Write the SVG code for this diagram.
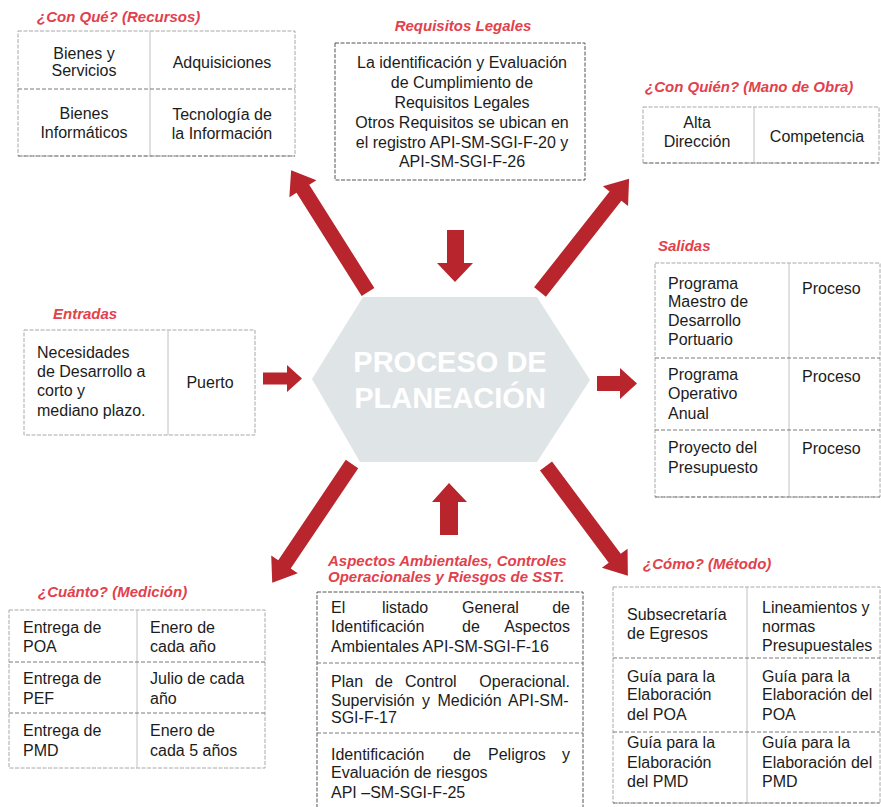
<svg xmlns="http://www.w3.org/2000/svg" width="881" height="807" viewBox="0 0 881 807">
<style>
.bg{fill:#ffffff}
.lbl{font-family:"Liberation Sans",Arial,sans-serif;font-size:15px;font-weight:bold;font-style:italic;fill:#e2414c}
.t{font-family:"Liberation Sans",Arial,sans-serif;font-size:16px;fill:#1c1c1c}
.c{text-anchor:middle}
.e{text-anchor:end}
.box{fill:#ffffff;stroke:#a8a8a8;stroke-width:1;stroke-dasharray:4 1.5}
.vl{stroke:#c0c0c0;stroke-width:1}
.hl{stroke:#7a7a7a;stroke-width:1;stroke-dasharray:4 2}
.box2{fill:#ffffff;stroke:#555;stroke-width:1;stroke-dasharray:4 1.5}
.arr{fill:#b8252d}
.hex{fill:#dfe4e7}
.ht{font-family:"Liberation Sans",Arial,sans-serif;font-size:29px;font-weight:bold;fill:#ffffff;text-anchor:middle}
</style>
<rect class="bg" x="0" y="0" width="881" height="807"/>

<g id="connectors">
  <path class="arr" transform="translate(368,292) rotate(-122.26)" d="M0,-7.5 H122 V-16 L144,0 L122,16 V7.5 H0 Z"/>
  <path class="arr" transform="translate(540,292) rotate(-51.78)" d="M0,-7.5 H122 V-16 L144,0 L122,16 V7.5 H0 Z"/>
  <path class="arr" transform="translate(352,464) rotate(123.91)" d="M0,-7.5 H121 V-16 L143,0 L121,16 V7.5 H0 Z"/>
  <path class="arr" transform="translate(546,466) rotate(53.3)" d="M0,-7.5 H115 V-16 L137,0 L115,16 V7.5 H0 Z"/>
  <path class="arr" d="M447,230 H464 V263 H473 L455,282 L437,263 H447 Z"/>
  <path class="arr" d="M440,535 V502 H432 L449,483 L467,502 H458 V535 Z"/>
  <path class="arr" d="M263,372.5 H287 V365 L302,378.5 L287,392 V384.5 H263 Z"/>
  <path class="arr" d="M597,376 H620 V368 L637,383.5 L620,399 V391 H597 Z"/>
</g>

<g id="proceso">
  <polygon class="hex" points="312,379 363,297 537,297 590,380 537,462 360,462"/>
  <text class="ht" x="450" y="372">PROCESO DE</text>
  <text class="ht" x="450" y="408">PLANEACIÓN</text>
</g>

<g id="recursos">
  <text class="lbl" x="37" y="22">¿Con Qué? (Recursos)</text>
  <rect class="box" x="18" y="31" width="277" height="125"/>
  <line class="vl" x1="150" y1="31" x2="150" y2="156"/>
  <line class="hl" x1="18" y1="89" x2="295" y2="89"/>
  <line class="hl" x1="18" y1="156" x2="295" y2="156"/>
  <text class="t c" x="84" y="59">Bienes y</text>
  <text class="t c" x="84" y="76">Servicios</text>
  <text class="t c" x="222" y="68">Adquisiciones</text>
  <text class="t c" x="84" y="119">Bienes</text>
  <text class="t c" x="84" y="138">Informáticos</text>
  <text class="t c" x="222" y="120">Tecnología  de</text>
  <text class="t c" x="222" y="139">la Información</text>
</g>

<g id="requisitos">
  <text class="lbl c" x="463" y="31">Requisitos Legales</text>
  <rect class="box2" x="335" y="43" width="250" height="137"/>
  <text class="t c" x="462" y="68">La identificación  y Evaluación</text>
  <text class="t c" x="462" y="88">de Cumplimiento  de</text>
  <text class="t c" x="462" y="108">Requisitos Legales</text>
  <text class="t c" x="462" y="128">Otros Requisitos  se ubican en</text>
  <text class="t c" x="462" y="148">el registro API-SM-SGI-F-20  y</text>
  <text class="t c" x="462" y="167">API-SM-SGI-F-26</text>
</g>

<g id="manodeobra">
  <text class="lbl" x="645" y="92">¿Con Quién?  (Mano de Obra)</text>
  <rect class="box" x="643" y="107" width="236" height="56"/>
  <line class="vl" x1="754" y1="107" x2="754" y2="163"/>
  <line class="hl" x1="643" y1="163" x2="879" y2="163"/>
  <text class="t c" x="697" y="128">Alta</text>
  <text class="t c" x="697" y="147">Dirección</text>
  <text class="t c" x="817" y="142">Competencia</text>
</g>

<g id="entradas">
  <text class="lbl" x="53" y="319">Entradas</text>
  <rect class="box" x="24" y="330" width="231" height="105"/>
  <line class="vl" x1="168" y1="330" x2="168" y2="435"/>
  <text class="t" x="37" y="358">Necesidades</text>
  <text class="t" x="37" y="377">de Desarrollo  a</text>
  <text class="t" x="37" y="396">corto y</text>
  <text class="t" x="37" y="416">mediano  plazo.</text>
  <text class="t c" x="210" y="388">Puerto</text>
</g>

<g id="salidas">
  <text class="lbl" x="658" y="251">Salidas</text>
  <rect class="box" x="655" y="263" width="225" height="234"/>
  <line class="vl" x1="789" y1="263" x2="789" y2="497"/>
  <line class="hl" x1="655" y1="358" x2="880" y2="358"/>
  <line class="hl" x1="655" y1="430" x2="880" y2="430"/>
  <line class="hl" x1="655" y1="497" x2="880" y2="497"/>
  <text class="t" x="668" y="289">Programa</text>
  <text class="t" x="668" y="307">Maestro de</text>
  <text class="t" x="668" y="326">Desarrollo</text>
  <text class="t" x="668" y="345">Portuario</text>
  <text class="t" x="802" y="294">Proceso</text>
  <text class="t" x="668" y="380">Programa</text>
  <text class="t" x="668" y="399">Operativo</text>
  <text class="t" x="668" y="419">Anual</text>
  <text class="t" x="802" y="382">Proceso</text>
  <text class="t" x="668" y="453">Proyecto del</text>
  <text class="t" x="668" y="473">Presupuesto</text>
  <text class="t" x="802" y="454">Proceso</text>
</g>

<g id="medicion">
  <text class="lbl" x="38" y="597">¿Cuánto? (Medición)</text>
  <rect class="box" x="9" y="610" width="256" height="158"/>
  <line class="vl" x1="137" y1="610" x2="137" y2="768"/>
  <line class="hl" x1="9" y1="662" x2="265" y2="662"/>
  <line class="hl" x1="9" y1="713" x2="265" y2="713"/>
  <text class="t" x="23" y="633">Entrega de</text>
  <text class="t" x="23" y="652">POA</text>
  <text class="t" x="150" y="633">Enero de</text>
  <text class="t" x="150" y="652">cada año</text>
  <text class="t" x="23" y="684">Entrega de</text>
  <text class="t" x="23" y="704">PEF</text>
  <text class="t" x="150" y="684">Julio de cada</text>
  <text class="t" x="150" y="704">año</text>
  <text class="t" x="23" y="736">Entrega de</text>
  <text class="t" x="23" y="756">PMD</text>
  <text class="t" x="150" y="736">Enero de</text>
  <text class="t" x="150" y="756">cada 5 años</text>
</g>

<g id="aspectos">
  <text class="lbl" x="328" y="566">Aspectos Ambientales, Controles</text>
  <text class="lbl" x="328" y="582">Operacionales y Riesgos de SST.</text>
  <rect class="box2" x="317" y="592" width="266" height="216"/>
  <line class="hl" x1="317" y1="663" x2="583" y2="663"/>
  <line class="hl" x1="317" y1="733" x2="583" y2="733"/>
  <text class="t" x="331" y="613">El</text>
  <text class="t" x="382" y="613">listado</text>
  <text class="t" x="462" y="613">General</text>
  <text class="t e" x="570" y="613">de</text>
  <text class="t" x="331" y="632">Identificación</text>
  <text class="t" x="462" y="632">de</text>
  <text class="t e" x="570" y="632">Aspectos</text>
  <text class="t" x="331" y="652">Ambientales API-SM-SGI-F-16</text>
  <text class="t" x="331" y="687">Plan</text>
  <text class="t" x="375" y="687">de</text>
  <text class="t" x="405" y="687">Control</text>
  <text class="t e" x="570" y="687">Operacional.</text>
  <text class="t" x="331" y="706" style="word-spacing:3px">Supervisión y Medición API-SM-</text>
  <text class="t" x="331" y="723">SGI-F-17</text>
  <text class="t" x="331" y="760">Identificación</text>
  <text class="t" x="453" y="760">de</text>
  <text class="t" x="488" y="760">Peligros</text>
  <text class="t e" x="570" y="760">y</text>
  <text class="t" x="331" y="778">Evaluación de riesgos</text>
  <text class="t" x="331" y="798">API –SM-SGI-F-25</text>
</g>

<g id="metodo">
  <text class="lbl" x="643" y="569">¿Cómo? (Método)</text>
  <rect class="box" x="613" y="587" width="267" height="216"/>
  <line class="vl" x1="747" y1="587" x2="747" y2="803"/>
  <line class="hl" x1="613" y1="658" x2="880" y2="658"/>
  <line class="hl" x1="613" y1="732" x2="880" y2="732"/>
  <line class="hl" x1="613" y1="803" x2="880" y2="803"/>
  <text class="t" x="627" y="620">Subsecretaría</text>
  <text class="t" x="627" y="639">de Egresos</text>
  <text class="t" x="762" y="613">Lineamientos y</text>
  <text class="t" x="762" y="632">normas</text>
  <text class="t" x="762" y="651">Presupuestales</text>
  <text class="t" x="627" y="682">Guía para la</text>
  <text class="t" x="627" y="700">Elaboración</text>
  <text class="t" x="627" y="720">del POA</text>
  <text class="t" x="762" y="682">Guía para la</text>
  <text class="t" x="762" y="700">Elaboración  del</text>
  <text class="t" x="762" y="720">POA</text>
  <text class="t" x="627" y="748">Guía para la</text>
  <text class="t" x="627" y="768">Elaboración</text>
  <text class="t" x="627" y="787">del PMD</text>
  <text class="t" x="762" y="748">Guía para la</text>
  <text class="t" x="762" y="768">Elaboración  del</text>
  <text class="t" x="762" y="787">PMD</text>
</g>
</svg>
